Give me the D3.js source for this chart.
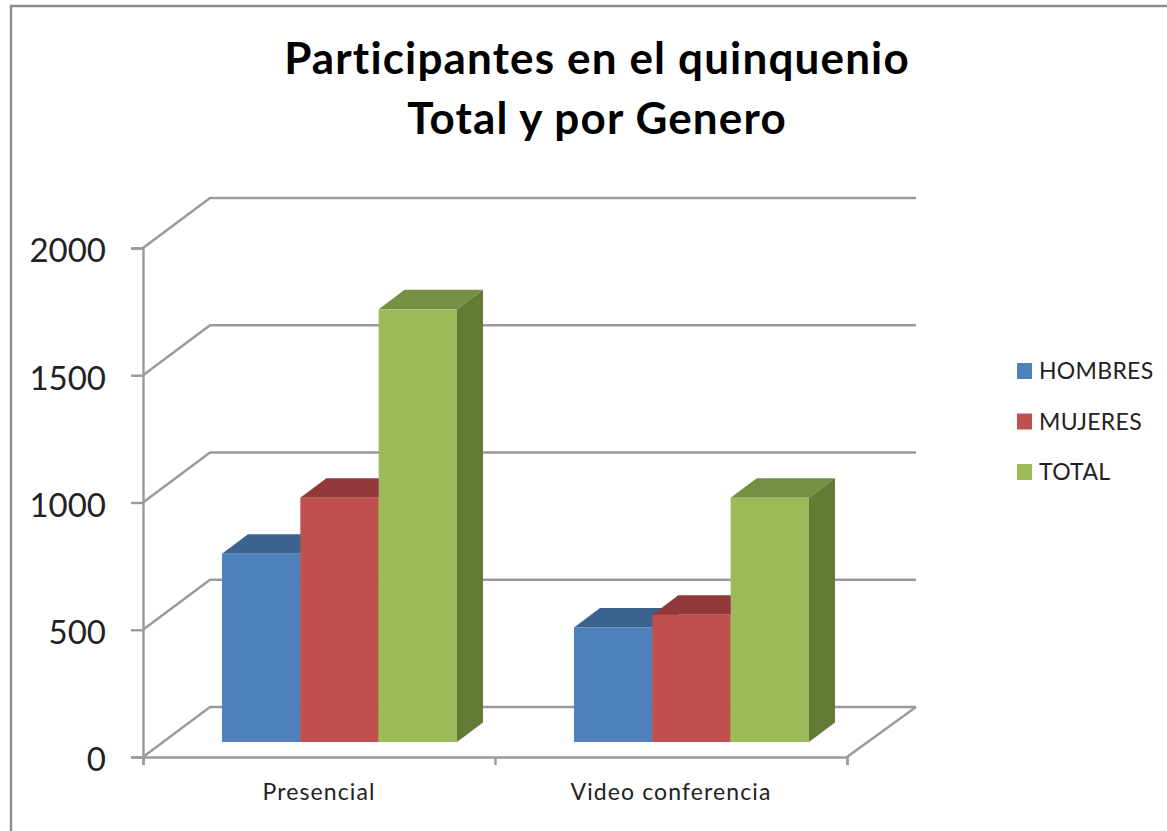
<!DOCTYPE html>
<html>
<head>
<meta charset="utf-8">
<script src="https://cdn.jsdelivr.net/npm/d3@7"></script>
<style>
  html, body { margin: 0; padding: 0; background: #fff; overflow: hidden; }
  text { font-family: Lato, "Open Sans", sans-serif; fill: #222; }
  .title { font-size: 44px; font-weight: 700; fill: #000; text-anchor: middle; letter-spacing: 1.15px; }
  .y-axis text { font-size: 33px; }
  .x-labels text { font-size: 23px; letter-spacing: 1.1px; }
  .legend text { font-size: 23px; letter-spacing: 0.3px; }
</style>
</head>
<body>
<svg id="chart" width="1167" height="831"></svg>
<script>
const titleLines = ["Participantes en el quinquenio", "Total y por Genero"];
const categories = ["Presencial", "Video conferencia"];
const seriesNames = ["HOMBRES", "MUJERES", "TOTAL"];
const hombres = [740, 450];
const mujeres = [960, 500];
const total = [1700, 960];
const yTicks = [0, 500, 1000, 1500, 2000];

const seriesValues = [hombres, mujeres, total];
const frontColors = ["#4f81bd", "#c0504d", "#9bbb59"];
const topColors = ["#3c6390", "#93393a", "#758f43"];
const sideColors = ["#34567e", "#803230", "#647a37"];

// plot box, front wall of the fake 3d floor
const plotLeft = 143, plotRight = 847, plotTop = 248, plotBottom = 757;
const wallDx = 67, wallDy = -50;   // floor depth
const wallRight = 916;
const barDx = 26, barDy = -19.5;   // bar depth
const barLift = 15, barShift = 20.5;

const svg = d3.select("#chart");
const gridColor = "#9a9a9a";
const gridWidth = 2.4;

// outer frame, runs off the right and bottom of the picture
svg.append("path")
    .attr("d", "M11,831V6H1167")
    .attr("fill", "none")
    .attr("stroke", "#8c8c8c")
    .attr("stroke-width", 2.4);

svg.selectAll(".title")
    .data(titleLines)
    .enter().append("text")
    .attr("class", "title")
    .attr("x", 597)
    .attr("y", (d, i) => 74 + i * 60)
    .text(d => d);

const y = d3.scaleLinear().domain([0, 2000]).range([plotBottom, plotTop]);
const xEdges = d3.scaleLinear().domain([0, categories.length]).range([plotLeft, plotRight]);
const xLabels = d3.scaleBand().domain(categories).range([plotLeft, plotRight]);
const xBars = d3.scaleBand().domain(categories)
    .range([plotLeft + barShift, plotRight + barShift])
    .paddingInner(0.3324).paddingOuter(0.1662);
const xSeries = d3.scaleBand().domain(seriesNames).range([0, xBars.bandwidth()]);

// side wall and back wall gridlines
svg.append("g").selectAll("path")
    .data(yTicks)
    .enter().append("path")
    .attr("fill", "none")
    .attr("stroke", gridColor)
    .attr("stroke-width", gridWidth)
    .attr("d", d => `M${plotLeft},${y(d)}L${plotLeft + wallDx},${y(d) + wallDy}H${wallRight}`);

// right edge of the floor
svg.append("path")
    .attr("fill", "none")
    .attr("stroke", gridColor)
    .attr("stroke-width", gridWidth)
    .attr("d", `M${plotRight},${y(0)}L${wallRight},${y(0) + wallDy}`);

const yAxis = svg.append("g")
    .attr("class", "y-axis")
    .attr("transform", `translate(${plotLeft},0)`)
    .call(d3.axisLeft(y).tickValues(yTicks).tickFormat(d3.format("d")).tickSize(12).tickPadding(25));
yAxis.selectAll("line, path").attr("stroke", gridColor).attr("stroke-width", gridWidth);
yAxis.select(".domain").attr("fill", "none");
yAxis.selectAll("text").attr("fill", "#222").attr("dy", "0.42em");

const xAxis = svg.append("g")
    .attr("transform", `translate(0,${plotBottom})`)
    .call(d3.axisBottom(xEdges).ticks(categories.length).tickFormat("").tickSize(8));
xAxis.selectAll("line, path").attr("stroke", gridColor).attr("stroke-width", gridWidth);
xAxis.select(".domain").attr("fill", "none");

const xLabelAxis = svg.append("g")
    .attr("class", "x-labels")
    .attr("transform", `translate(0,${plotBottom})`)
    .call(d3.axisBottom(xLabels).tickSize(0).tickPadding(27));
xLabelAxis.select(".domain").remove();
xLabelAxis.selectAll("text").attr("fill", "#222");

// bars: top, side, then front, left to right so each front hides the last side
categories.forEach((cat, c) => {
    const g = svg.append("g").attr("transform", `translate(${xBars(cat)},${-barLift})`);
    seriesNames.forEach((name, s) => {
        const x0 = xSeries(name);
        const x1 = x0 + xSeries.bandwidth();
        const yTop = y(seriesValues[s][c]);
        const yBase = y(0);
        g.append("path")
            .attr("fill", topColors[s])
            .attr("d", `M${x0},${yTop}L${x0 + barDx},${yTop + barDy}H${x1 + barDx}L${x1},${yTop}Z`);
        g.append("path")
            .attr("fill", sideColors[s])
            .attr("d", `M${x1},${yTop}L${x1 + barDx},${yTop + barDy}V${yBase + barDy}L${x1},${yBase}Z`);
        g.append("rect")
            .attr("x", x0)
            .attr("y", yTop)
            .attr("width", xSeries.bandwidth())
            .attr("height", yBase - yTop)
            .attr("fill", frontColors[s]);
    });
});

// legend
const legendY = d3.scalePoint().domain(seriesNames).range([371, 472]);
const legend = svg.append("g").attr("class", "legend");
legend.selectAll("rect")
    .data(seriesNames)
    .enter().append("rect")
    .attr("x", 1017)
    .attr("y", d => legendY(d) - 8)
    .attr("width", 15)
    .attr("height", 16)
    .attr("fill", (d, i) => frontColors[i]);
legend.selectAll("text")
    .data(seriesNames)
    .enter().append("text")
    .attr("x", 1039)
    .attr("y", d => legendY(d))
    .attr("dy", "0.36em")
    .text(d => d);
</script>
</body>
</html>
